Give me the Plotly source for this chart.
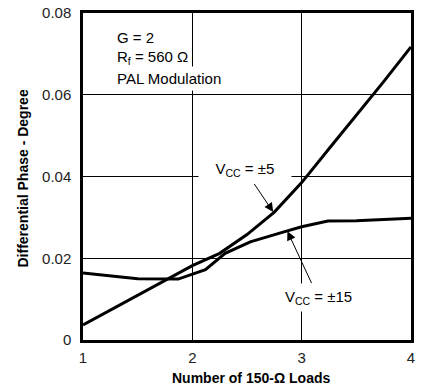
import plotly.graph_objects as go

# Data
loads_5 = [1.0, 1.5, 2.0, 2.25, 2.5, 2.75, 3.0, 3.25, 3.5, 3.75, 4.0]
phase_5 = [0.0037, 0.0110, 0.0182, 0.0212, 0.0258, 0.0313, 0.0385, 0.0468, 0.0550, 0.0632, 0.0717]

loads_15 = [1.0, 1.5, 1.87, 2.12, 2.3, 2.53, 2.83, 3.0, 3.24, 3.5, 4.0]
phase_15 = [0.0164, 0.0150, 0.0149, 0.0172, 0.0212, 0.0240, 0.0264, 0.0277, 0.0291, 0.0292, 0.0298]

x_ticks = [1, 2, 3, 4]
y_ticks = [0, 0.02, 0.04, 0.06, 0.08]
y_ticktext = ["0", "0.02", "0.04", "0.06", "0.08"]

condition_lines = ["G = 2", "R<sub>f</sub> = 560 \u03a9", "PAL Modulation"]
condition_y = [0.0740, 0.0690, 0.0640]

x_title = "<b>Number of 150-\u03a9 Loads</b>"
y_title = "<b>Differential Phase - Degree</b>"

FONT = "Liberation Sans, Arial, Helvetica, sans-serif"

fig = go.Figure()
fig.add_trace(go.Scatter(x=loads_5, y=phase_5, mode="lines",
                         line=dict(color="black", width=3), showlegend=False))
fig.add_trace(go.Scatter(x=loads_15, y=phase_15, mode="lines",
                         line=dict(color="black", width=3), showlegend=False))

annotations = []
for txt, yy in zip(condition_lines, condition_y):
    annotations.append(dict(x=1.27, y=yy, xref="x", yref="y", xanchor="left",
                            yanchor="middle", align="left", showarrow=False,
                            bgcolor="white", borderpad=3, text=txt,
                            font=dict(size=15, color="black", family=FONT)))

annotations += [
    # VCC = ±5 label with arrow to its curve
    dict(x=2.74, y=0.0313, ax=2.48, ay=0.0416, xref="x", yref="y",
         axref="x", ayref="y", showarrow=True, arrowhead=2, arrowsize=1.8,
         arrowwidth=1, arrowcolor="black", bgcolor="white", borderpad=4,
         text="\u00a0\u00a0\u00a0V<sub>CC</sub> = \u00b15\u00a0\u00a0\u00a0",
         font=dict(size=15, color="black", family=FONT)),
    # VCC = ±15 label with arrow to its curve
    dict(x=2.87, y=0.0266, ax=3.15, ay=0.0105, xref="x", yref="y",
         axref="x", ayref="y", showarrow=True, arrowhead=2, arrowsize=1.8,
         arrowwidth=1, arrowcolor="black", bgcolor="white", borderpad=4,
         text="V<sub>CC</sub> = \u00b115",
         font=dict(size=15, color="black", family=FONT)),
    # axis titles
    dict(x=0.5, y=0, xref="paper", yref="paper", xanchor="center",
         yanchor="middle", yshift=-38, xshift=4, showarrow=False, text=x_title,
         font=dict(size=14, color="black", family=FONT)),
    dict(x=0, y=0.5, xref="paper", yref="paper", xanchor="center",
         yanchor="middle", xshift=-61, yshift=-2, textangle=-90,
         showarrow=False, text=y_title,
         font=dict(size=14, color="black", family=FONT)),
]

fig.update_layout(
    width=432, height=387,
    margin=dict(l=83, r=21, t=13, b=47),
    paper_bgcolor="white", plot_bgcolor="white",
    font=dict(family=FONT, size=15, color="black"),
    annotations=annotations,
    xaxis=dict(range=[1, 4], tickvals=x_ticks, showgrid=True, gridcolor="black",
               gridwidth=1, zeroline=False, showline=True, linecolor="black",
               linewidth=2.5, mirror=True, ticks="outside", ticklen=2,
               tickcolor="white", automargin=False,
               tickfont=dict(size=15, color="#222")),
    yaxis=dict(range=[0, 0.08], tickvals=y_ticks, ticktext=y_ticktext,
               showgrid=True, gridcolor="black", gridwidth=1, zeroline=False,
               showline=True, linecolor="black", linewidth=2.5, mirror=True,
               ticks="outside", ticklen=6, tickcolor="white", automargin=False,
               tickfont=dict(size=15, color="#222")),
)

fig.write_html("out.html",
               config={"displayModeBar": False},
               post_script="document.body.style.margin='0';"
                           "document.body.style.overflow='hidden';")
